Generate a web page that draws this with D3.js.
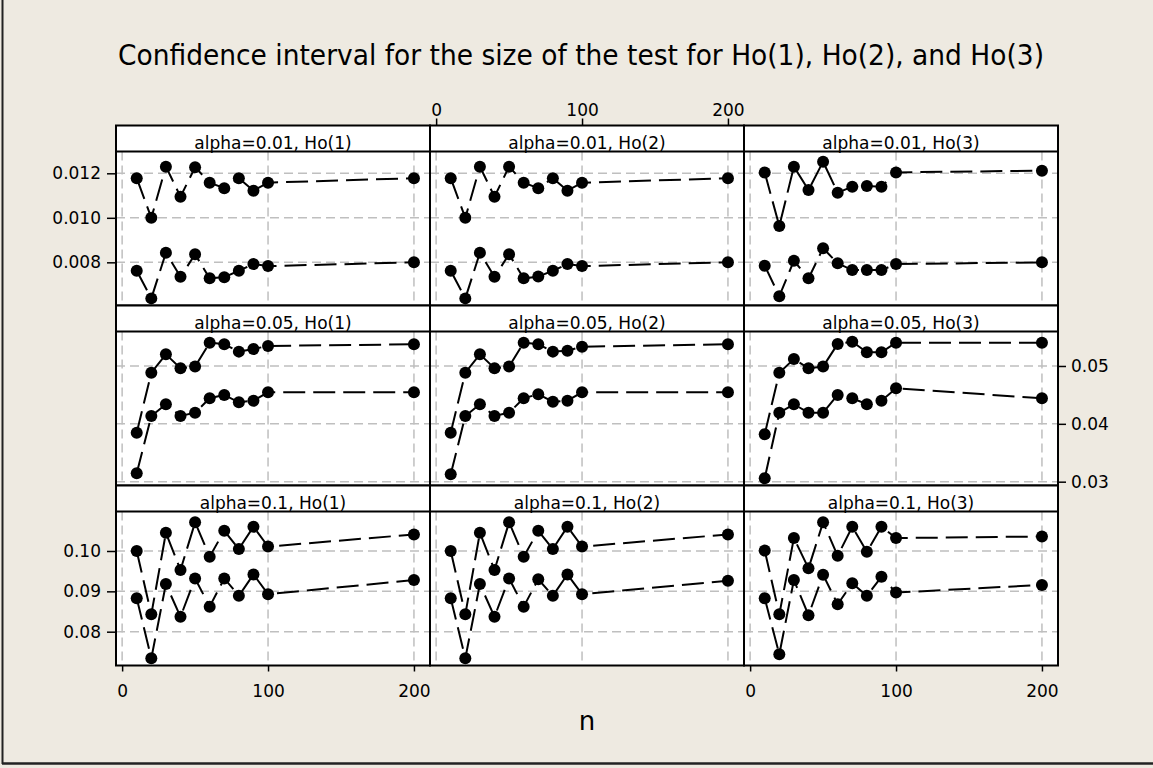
<!DOCTYPE html>
<meta charset="utf-8">
<style>
body { margin: 0; background: #EEEAE1; }
svg { display: block; }
.axis .domain { display: none; }
.axis line { stroke: #000; stroke-width: 1.5; }
.axis text { font: 17px "DejaVu Sans", sans-serif; fill: #000; }
.grid line { stroke: #bfbfbf; stroke-width: 1.5; stroke-dasharray: 9,5; }
.strip { font: 17px "DejaVu Sans", sans-serif; fill: #000; }
.title { font: 29px "DejaVu Sans", sans-serif; fill: #000; }
.xlabel { font: 26px "DejaVu Sans", sans-serif; fill: #000; }
</style>
<svg width="1153" height="768"></svg>
<script src="https://d3js.org/d3.v7.min.js"></script>
<script>
var nValues = [10, 20, 30, 40, 50, 60, 70, 80, 90, 100, 200];
var alphas = ["0.01", "0.05", "0.1"];
var hypotheses = ["Ho(1)", "Ho(2)", "Ho(3)"];
var xTicks = [0, 100, 200];

var yTicks01 = [0.008, 0.010, 0.012];
var yTicks05 = [0.03, 0.04, 0.05];
var yTicks10 = [0.08, 0.09, 0.10];
var yTickLabels01 = ["0.008", "0.010", "0.012"];
var yTickLabels05 = ["0.03", "0.04", "0.05"];
var yTickLabels10 = ["0.08", "0.09", "0.10"];

// alpha = 0.01
var upper01_ho1 = [0.01178, 0.01000, 0.01230, 0.01095, 0.01227, 0.01158, 0.01133, 0.01178, 0.01122, 0.01158, 0.01178];
var lower01_ho1 = [0.00762, 0.00638, 0.00843, 0.00735, 0.00836, 0.00728, 0.00733, 0.00762, 0.00792, 0.00783, 0.00800];
var upper01_ho2 = [0.01178, 0.01000, 0.01230, 0.01095, 0.01230, 0.01158, 0.01133, 0.01178, 0.01122, 0.01158, 0.01178];
var lower01_ho2 = [0.00762, 0.00638, 0.00843, 0.00735, 0.00836, 0.00728, 0.00736, 0.00762, 0.00792, 0.00783, 0.00800];
var upper01_ho3 = [0.01204, 0.00963, 0.01230, 0.01125, 0.01252, 0.01113, 0.01140, 0.01143, 0.01140, 0.01204, 0.01212];
var lower01_ho3 = [0.00785, 0.00648, 0.00807, 0.00728, 0.00863, 0.00796, 0.00765, 0.00765, 0.00765, 0.00792, 0.00800];

// alpha = 0.05
var upper05_ho1 = [0.03847, 0.04884, 0.05202, 0.04960, 0.04989, 0.05403, 0.05375, 0.05248, 0.05294, 0.05346, 0.05375];
var lower05_ho1 = [0.03145, 0.04136, 0.04338, 0.04136, 0.04193, 0.04442, 0.04499, 0.04372, 0.04400, 0.04545, 0.04545];
var upper05_ho2 = [0.03847, 0.04884, 0.05202, 0.04960, 0.04989, 0.05403, 0.05375, 0.05248, 0.05265, 0.05334, 0.05375];
var lower05_ho2 = [0.03128, 0.04136, 0.04338, 0.04136, 0.04193, 0.04442, 0.04510, 0.04383, 0.04400, 0.04545, 0.04545];
var upper05_ho3 = [0.03820, 0.04884, 0.05121, 0.04960, 0.04989, 0.05380, 0.05420, 0.05237, 0.05237, 0.05403, 0.05403];
var lower05_ho3 = [0.03059, 0.04193, 0.04338, 0.04193, 0.04193, 0.04499, 0.04442, 0.04338, 0.04400, 0.04614, 0.04442];

// alpha = 0.1
var upper10_ho1 = [0.1000, 0.0843, 0.1045, 0.0953, 0.1071, 0.0986, 0.1050, 0.1005, 0.1060, 0.1011, 0.1041];
var lower10_ho1 = [0.0883, 0.0734, 0.0918, 0.0837, 0.0932, 0.0862, 0.0932, 0.0889, 0.0942, 0.0893, 0.0928];
var upper10_ho2 = [0.1000, 0.0843, 0.1045, 0.0953, 0.1071, 0.0986, 0.1050, 0.1005, 0.1060, 0.1011, 0.1041];
var lower10_ho2 = [0.0883, 0.0734, 0.0918, 0.0837, 0.0932, 0.0862, 0.0930, 0.0889, 0.0942, 0.0893, 0.0926];
var upper10_ho3 = [0.1001, 0.0843, 0.1032, 0.0957, 0.1071, 0.0988, 0.1060, 0.0998, 0.1060, 0.1032, 0.1036];
var lower10_ho3 = [0.0883, 0.0744, 0.0928, 0.0841, 0.0941, 0.0868, 0.0920, 0.0889, 0.0936, 0.0897, 0.0916];

var rows = [
  { ticks: yTicks01, labels: yTickLabels01, domain: [0.00606, 0.01298],
    series: [[upper01_ho1, lower01_ho1], [upper01_ho2, lower01_ho2], [upper01_ho3, lower01_ho3]] },
  { ticks: yTicks05, labels: yTickLabels05, domain: [0.02934, 0.05596],
    series: [[upper05_ho1, lower05_ho1], [upper05_ho2, lower05_ho2], [upper05_ho3, lower05_ho3]] },
  { ticks: yTicks10, labels: yTickLabels10, domain: [0.07162, 0.10979],
    series: [[upper10_ho1, lower10_ho1], [upper10_ho2, lower10_ho2], [upper10_ho3, lower10_ho3]] }
];

var svg = d3.select("svg");
var gridLeft = 116, gridTop = 125.5, colW = 314, stripH = 26, plotH = 154, rowH = stripH + plotH;

// outer frame (left + bottom edges)
svg.append("line").attr("x1", 2.5).attr("x2", 2.5).attr("y1", 0).attr("y2", 764)
  .attr("stroke", "#222").attr("stroke-width", 2);
svg.append("line").attr("x1", 2).attr("x2", 1153).attr("y1", 763.5).attr("y2", 763.5)
  .attr("stroke", "#222").attr("stroke-width", 2.5);

svg.append("text").attr("class", "title")
  .attr("x", 581).attr("y", 65).attr("text-anchor", "middle")
  .attr("textLength", 926).attr("lengthAdjust", "spacingAndGlyphs")
  .text("Confidence interval for the size of the test for Ho(1), Ho(2), and Ho(3)");

svg.append("text").attr("class", "xlabel")
  .attr("x", 587).attr("y", 730).attr("text-anchor", "middle").text("n");

var x = d3.scaleLinear().domain([-4.2, 211]).range([0, colW]);

var line = d3.line().x(function(d) { return x(d.n); }).y(function(d) { return d.yv; });

rows.forEach(function(row, r) {
  var y = d3.scaleLinear().domain(row.domain).range([plotH, 0]);
  var fmt = function(d) { return row.labels[row.ticks.indexOf(d)]; };

  for (var c = 0; c < 3; c++) {
    var g = svg.append("g").attr("transform", "translate(" + (gridLeft + c * colW) + "," + (gridTop + r * rowH) + ")");
    g.append("rect").attr("width", colW).attr("height", rowH).attr("fill", "#fff");

    var p = g.append("g").attr("transform", "translate(0," + stripH + ")");
    var grid = p.append("g").attr("class", "grid");
    grid.selectAll(".v").data(xTicks).enter().append("line")
      .attr("x1", x).attr("x2", x).attr("y1", 0).attr("y2", plotH);
    grid.selectAll(".h").data(row.ticks).enter().append("line")
      .attr("x1", 0).attr("x2", colW).attr("y1", y).attr("y2", y);

    row.series[c].forEach(function(vals) {
      var pts = nValues.map(function(n, i) { return { n: n, yv: y(vals[i]) }; });
      p.append("path").datum(pts).attr("d", line)
        .attr("fill", "none").attr("stroke", "#000").attr("stroke-width", 2)
        .attr("stroke-dasharray", "22,8");
      p.selectAll(null).data(pts).enter().append("circle")
        .attr("cx", function(d) { return x(d.n); })
        .attr("cy", function(d) { return d.yv; })
        .attr("r", 6).attr("fill", "#000");
    });

    g.append("text").attr("class", "strip")
      .attr("x", colW / 2).attr("y", stripH - 2.5).attr("text-anchor", "middle")
      .text("alpha=" + alphas[r] + ", " + hypotheses[c]);

    g.append("rect").attr("width", colW).attr("height", rowH)
      .attr("fill", "none").attr("stroke", "#000").attr("stroke-width", 2);
    g.append("line").attr("x1", 0).attr("x2", colW).attr("y1", stripH).attr("y2", stripH)
      .attr("stroke", "#000").attr("stroke-width", 2);

    // axes, alternating like the original layout
    if (c === 0 && r !== 1) {
      p.append("g").attr("class", "axis")
        .call(d3.axisLeft(y).tickValues(row.ticks).tickFormat(fmt).tickSize(9).tickPadding(6).tickSizeOuter(0));
    }
    if (c === 2 && r === 1) {
      p.append("g").attr("class", "axis").attr("transform", "translate(" + colW + ",0)")
        .call(d3.axisRight(y).tickValues(row.ticks).tickFormat(fmt).tickSize(8).tickPadding(5).tickSizeOuter(0));
    }
    if (r === 0 && c === 1) {
      g.append("g").attr("class", "axis")
        .call(d3.axisTop(x).tickValues(xTicks).tickSize(7).tickPadding(3).tickSizeOuter(0));
    }
    if (r === 2 && c !== 1) {
      p.append("g").attr("class", "axis").attr("transform", "translate(0," + plotH + ")")
        .call(d3.axisBottom(x).tickValues(xTicks).tickSize(6).tickPadding(13).tickSizeOuter(0));
    }
  }
});
</script>
